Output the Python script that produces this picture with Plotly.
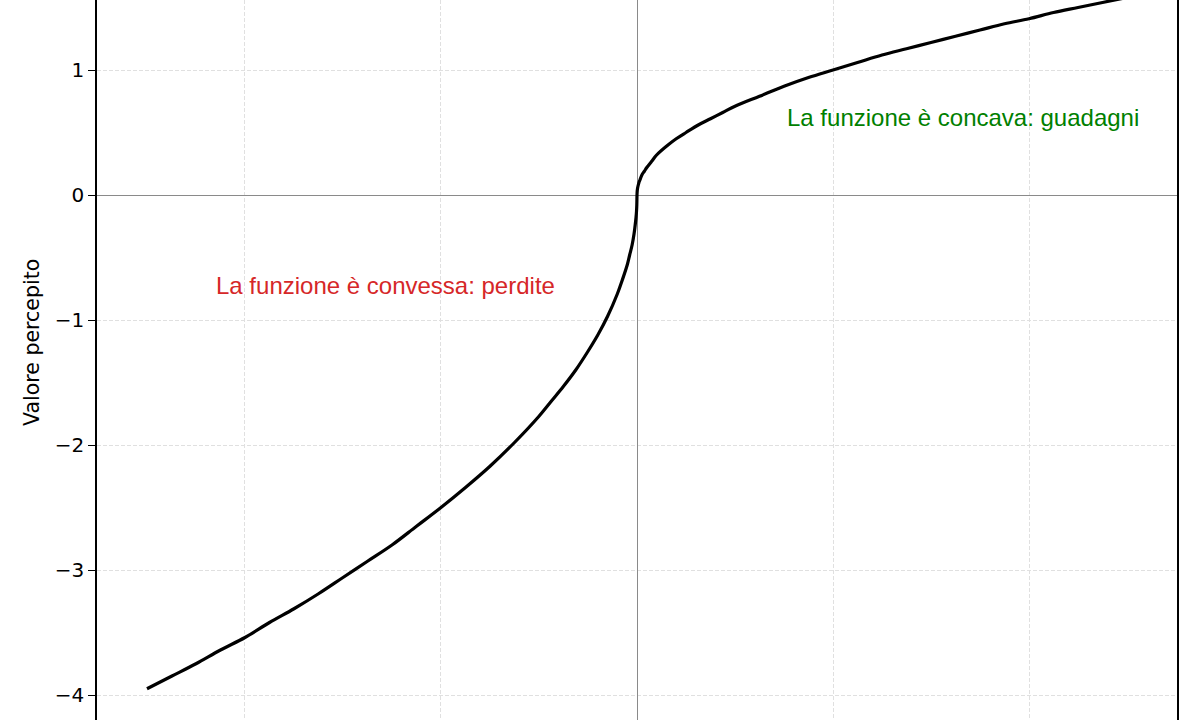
import plotly.graph_objects as go

# punti: valore percepito in funzione di perdite / guadagni
loss_x = [-5, -4.75, -4.5, -4.25, -4, -3.75, -3.5, -3.25, -3, -2.75, -2.5, -2.25, -2, -1.75, -1.5, -1.25,
          -1, -0.875, -0.75, -0.625, -0.5, -0.4, -0.3, -0.2, -0.15, -0.1, -0.075, -0.05, -0.03, -0.02,
          -0.01, -0.005, -0.002, 0]
loss_y = [-3.95, -3.85, -3.75, -3.64, -3.54, -3.42, -3.31, -3.19, -3.06, -2.93, -2.80, -2.65, -2.50, -2.34,
          -2.17, -1.98, -1.77, -1.65, -1.53, -1.40, -1.25, -1.12, -0.97, -0.79, -0.68, -0.56, -0.48, -0.40,
          -0.31, -0.25, -0.18, -0.13, -0.08, 0]

gain_x = [0, 0.002, 0.005, 0.01, 0.02, 0.03, 0.05, 0.075, 0.1, 0.15, 0.2, 0.3, 0.4, 0.5, 0.625, 0.75, 0.875,
          1, 1.25, 1.5, 1.75, 2, 2.25, 2.5, 2.75, 3, 3.25, 3.5, 3.75, 4, 4.25, 4.5, 4.75, 5]
gain_y = [0, 0.03, 0.05, 0.07, 0.10, 0.12, 0.16, 0.19, 0.22, 0.27, 0.32, 0.39, 0.45, 0.50, 0.56, 0.61, 0.66,
          0.71, 0.79, 0.87, 0.94, 1.00, 1.06, 1.12, 1.17, 1.22, 1.27, 1.32, 1.37, 1.41, 1.46, 1.50, 1.54, 1.58]

y_ticks = [-4, -3, -2, -1, 0, 1]
x_ticks = [-4, -2, 0, 2, 4]

fig = go.Figure()

fig.add_trace(go.Scatter(
    x=loss_x + gain_x[1:],
    y=loss_y + gain_y[1:],
    mode="lines",
    line=dict(color="black", width=3.2, shape="spline", smoothing=1),
    hoverinfo="x+y",
    showlegend=False
))

fig.add_annotation(
    x=-2.57, y=-0.72, text="La funzione è convessa: perdite",
    showarrow=False, font=dict(family="Liberation Sans, Arial", size=24, color="#d62728")
)
fig.add_annotation(
    x=3.33, y=0.62, text="La funzione è concava: guadagni",
    showarrow=False, font=dict(family="Liberation Sans, Arial", size=24, color="green")
)
# titolo asse y (la figura originale è ritagliata, quindi non è centrato sull'area visibile)
fig.add_annotation(
    xref="paper", yref="paper", x=-0.073, y=0.524,
    text="Valore percepito", textangle=-90, showarrow=False,
    font=dict(family="DejaVu Sans", size=20.5, color="black")
)

fig.update_xaxes(
    range=[-5.51, 5.51],
    tickvals=x_ticks,
    showticklabels=False,
    ticks="",
    showgrid=True, gridcolor="#e0e0e0", griddash="4px,2px", gridwidth=1,
    zeroline=True, zerolinecolor="#8a8a8a", zerolinewidth=1.3,
    showline=False
)
fig.update_yaxes(
    range=[-4.2, 1.56],
    tickvals=y_ticks,
    ticks="outside", ticklen=7, tickwidth=1.2, tickcolor="black",
    tickfont=dict(family="DejaVu Sans", size=20, color="black"),
    showgrid=True, gridcolor="#e0e0e0", griddash="4px,2px", gridwidth=1,
    zeroline=True, zerolinecolor="#8a8a8a", zerolinewidth=1.3,
    showline=True, linecolor="black", linewidth=1.5, mirror=True
)

fig.update_layout(
    width=1200,
    height=720,
    margin=dict(l=97, r=23, t=0, b=0),
    plot_bgcolor="white",
    paper_bgcolor="white"
)

fig.write_html("out.html", config={"displayModeBar": False},
               post_script="document.body.style.margin='0';")
